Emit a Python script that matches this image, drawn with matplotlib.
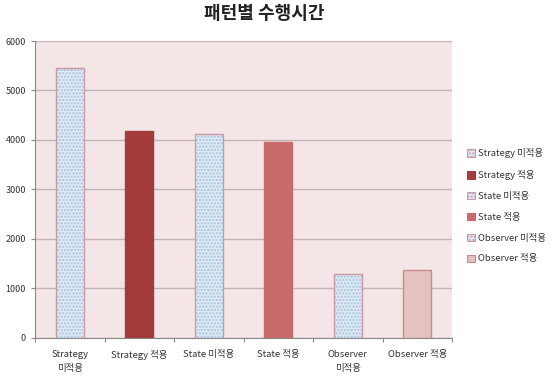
import matplotlib.pyplot as plt
from matplotlib.patches import Patch

plt.rcParams['font.family'] = ['Noto Sans CJK KR', 'DejaVu Sans']

categories = ['Strategy\n미적용', 'Strategy 적용', 'State 미적용', 'State 적용', 'Observer\n미적용', 'Observer 적용']
legend_labels = ['Strategy 미적용', 'Strategy 적용', 'State 미적용', 'State 적용', 'Observer 미적용', 'Observer 적용']
values = [5450, 4180, 4120, 3960, 1290, 1370]

faces = ['#dde9f5', '#a33a3c', '#dde9f5', '#c96b6c', '#dde9f5', '#e6c1c2']
hatched = [True, False, True, False, True, False]
edges = ['#c99aa6', '#a33a3c', '#c99aa6', '#c96b6c', '#c99aa6', '#c98a8e']

fig = plt.figure(figsize=(5.56, 3.87), dpi=100)
ax = fig.add_axes([0.063, 0.127, 0.75, 0.767])
ax.set_facecolor('#f4e6e6')

x = range(len(categories))
for i in x:
    if hatched[i]:
        ax.bar(i, values[i], width=0.4, color=faces[i], hatch='.....',
               edgecolor='#a9c0da', linewidth=0, zorder=3)
        ax.bar(i, values[i], width=0.4, fill=False, edgecolor=edges[i],
               linewidth=1.0, zorder=4)
    else:
        ax.bar(i, values[i], width=0.4, color=faces[i], edgecolor=edges[i],
               linewidth=1.0, zorder=3)

ax.set_xlim(-0.5, len(categories) - 0.5)
ax.set_ylim(0, 6000)
ax.set_yticks(range(0, 6001, 1000))
ax.yaxis.grid(True, color='#c3b3b5', linewidth=1.0, zorder=0)
ax.set_axisbelow(True)
ax.set_xticks([i + 0.5 for i in range(-1, len(categories))], minor=False)
ax.set_xticklabels([])
ax.set_xticks(list(x), minor=True)
ax.set_xticklabels(categories, minor=True, fontsize=6.8, color='#333333', linespacing=1.7)
ax.tick_params(axis='x', which='minor', length=0, pad=9)
ax.tick_params(axis='x', which='major', length=3, color='#888888')
ax.tick_params(axis='y', labelsize=6.5, length=3, colors='#888888')
for lbl in ax.get_yticklabels():
    lbl.set_color('#333333')

for side in ['top', 'right']:
    ax.spines[side].set_visible(False)
ax.spines['left'].set_color('#888888')
ax.spines['bottom'].set_color('#888888')

fig.suptitle('패턴별 수행시간', x=0.475, y=0.99, fontsize=13, fontweight='bold', color='#222222')

handles = []
for i in range(len(legend_labels)):
    if hatched[i]:
        handles.append(Patch(facecolor=faces[i], edgecolor=edges[i], hatch='.....', linewidth=0.8))
    else:
        handles.append(Patch(facecolor=faces[i], edgecolor=edges[i], linewidth=0.8))
fig.legend(handles, legend_labels, loc='center left', bbox_to_anchor=(0.825, 0.468),
           frameon=False, fontsize=6.8, handlelength=0.8, handleheight=0.8,
           handletextpad=0.3, labelspacing=1.25, labelcolor='#333333')

fig.savefig('out.png', dpi=100)
